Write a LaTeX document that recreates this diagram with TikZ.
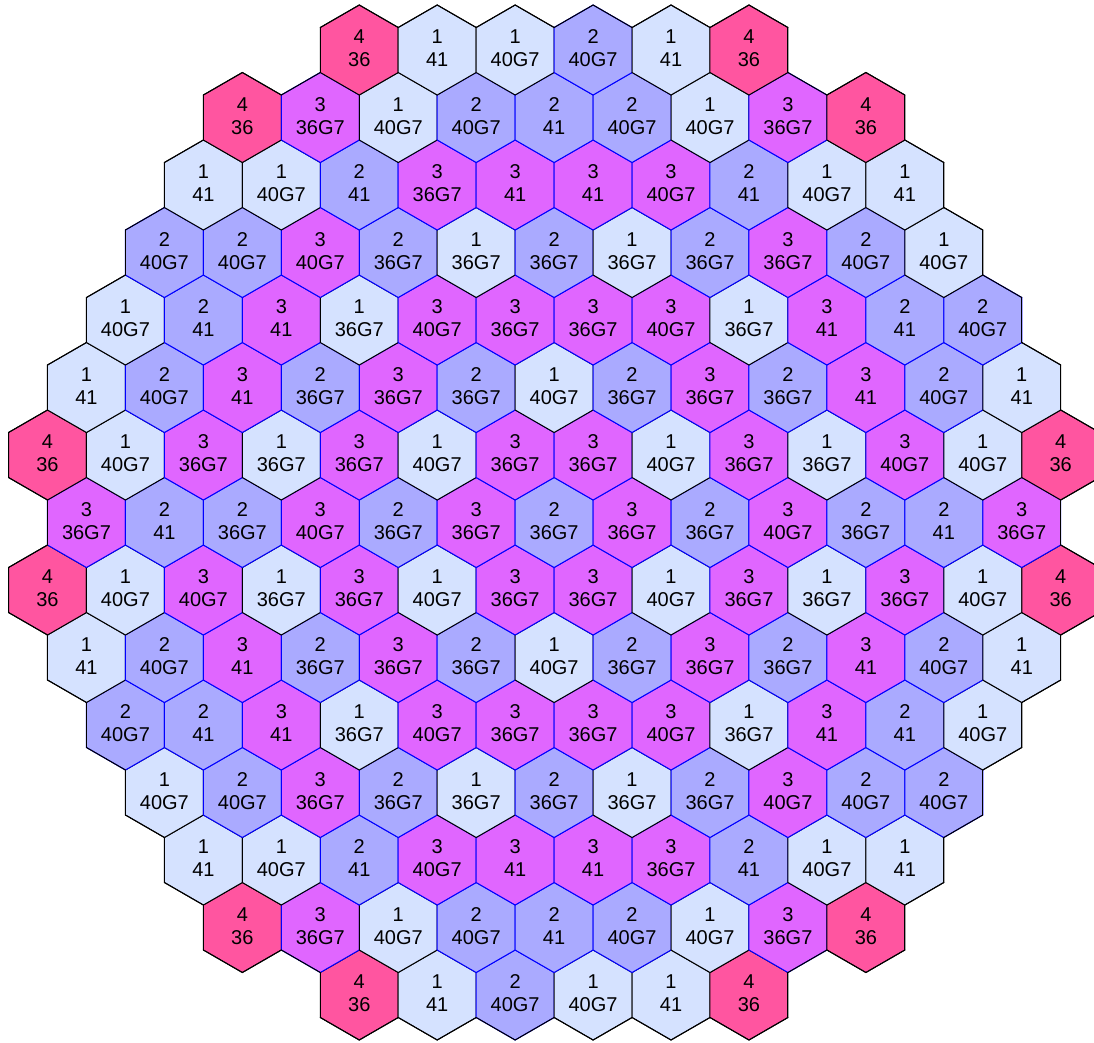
\documentclass[tikz,border=0pt]{standalone}
\usepackage{fontspec}
\setmainfont{Liberation Sans}
\definecolor{fillA}{RGB}{213,226,255}
\definecolor{fillB}{RGB}{170,170,255}
\definecolor{fillC}{RGB}{224,102,255}
\definecolor{fillD}{RGB}{255,85,160}
\colorlet{lineA}{black}
\colorlet{lineB}{blue}
\colorlet{lineC}{blue}
\colorlet{lineD}{black}
\def\stripbraces#1{#1}
\def\corerows{
 15/8/{D/4/36,A/1/41,B/2/40G7,A/1/40G7,A/1/41,D/4/36},
 14/5/{D/4/36,C/3/36G7,A/1/40G7,B/2/40G7,B/2/41,B/2/40G7,A/1/40G7,C/3/36G7,D/4/36},
 13/4/{A/1/41,A/1/40G7,B/2/41,C/3/40G7,C/3/41,C/3/41,C/3/36G7,B/2/41,A/1/40G7,A/1/41},
 12/3/{A/1/40G7,B/2/40G7,C/3/36G7,B/2/36G7,A/1/36G7,B/2/36G7,A/1/36G7,B/2/36G7,C/3/40G7,B/2/40G7,B/2/40G7},
 11/2/{B/2/40G7,B/2/41,C/3/41,A/1/36G7,C/3/40G7,C/3/36G7,C/3/36G7,C/3/40G7,A/1/36G7,C/3/41,B/2/41,A/1/40G7},
 10/1/{A/1/41,B/2/40G7,C/3/41,B/2/36G7,C/3/36G7,B/2/36G7,A/1/40G7,B/2/36G7,C/3/36G7,B/2/36G7,C/3/41,B/2/40G7,A/1/41},
 9/0/{D/4/36,A/1/40G7,C/3/40G7,A/1/36G7,C/3/36G7,A/1/40G7,C/3/36G7,C/3/36G7,A/1/40G7,C/3/36G7,A/1/36G7,C/3/36G7,A/1/40G7,D/4/36},
 8/1/{C/3/36G7,B/2/41,B/2/36G7,C/3/40G7,B/2/36G7,C/3/36G7,B/2/36G7,C/3/36G7,B/2/36G7,C/3/40G7,B/2/36G7,B/2/41,C/3/36G7},
 7/0/{D/4/36,A/1/40G7,C/3/36G7,A/1/36G7,C/3/36G7,A/1/40G7,C/3/36G7,C/3/36G7,A/1/40G7,C/3/36G7,A/1/36G7,C/3/40G7,A/1/40G7,D/4/36},
 6/1/{A/1/41,B/2/40G7,C/3/41,B/2/36G7,C/3/36G7,B/2/36G7,A/1/40G7,B/2/36G7,C/3/36G7,B/2/36G7,C/3/41,B/2/40G7,A/1/41},
 5/2/{A/1/40G7,B/2/41,C/3/41,A/1/36G7,C/3/40G7,C/3/36G7,C/3/36G7,C/3/40G7,A/1/36G7,C/3/41,B/2/41,B/2/40G7},
 4/3/{B/2/40G7,B/2/40G7,C/3/40G7,B/2/36G7,A/1/36G7,B/2/36G7,A/1/36G7,B/2/36G7,C/3/36G7,B/2/40G7,A/1/40G7},
 3/4/{A/1/41,A/1/40G7,B/2/41,C/3/36G7,C/3/41,C/3/41,C/3/40G7,B/2/41,A/1/40G7,A/1/41},
 2/5/{D/4/36,C/3/36G7,A/1/40G7,B/2/40G7,B/2/41,B/2/40G7,A/1/40G7,C/3/36G7,D/4/36},
 1/8/{D/4/36,A/1/41,A/1/40G7,B/2/40G7,A/1/41,D/4/36}}
\begin{document}
\begin{tikzpicture}[x=1pt,y=-1pt,
  hexlabel/.style={font=\fontsize{20}{23}\selectfont, align=center, inner sep=0pt, text=black},
  hexcell/.style={line width=1pt, line join=miter},
  rimedge/.style={draw=black, line width=1pt, line cap=round}]
\useasboundingbox (0,0) rectangle (1094,1043);
\clip (0,0) rectangle (1094,1043);
% assemblies, drawn from the bottom row upwards, left to right
\foreach \rw/\js/\cells in \corerows {
  \edef\celllist{\expandafter\stripbraces\cells}
  \foreach \ty/\nm/\lb [count=\k from 0] in \celllist {
    \pgfmathsetmacro\cx{47.5+38.97*(\js+2*\k)}
    \pgfmathsetmacro\cy{50+67.5*(\rw-1)}
    \filldraw[hexcell, fill=fill\ty, draw=line\ty] (\cx,\cy) +(90:45) -- +(150:45) -- +(210:45) -- +(270:45) -- +(330:45) -- +(30:45) -- cycle;
    \node[hexlabel] (h\rw-\k) at (\cx,\cy-1.5) {\nm\\\lb};
  }
}
% black outer rim of the core
\foreach \rw/\js/\cells in \corerows {
  \edef\celllist{\expandafter\stripbraces\cells}
  \pgfmathtruncatemacro\sC{{99,8,5,4,3,2,1,0,1,0,1,2,3,4,5,8,99}[\rw]}
  \pgfmathtruncatemacro\sU{{99,8,5,4,3,2,1,0,1,0,1,2,3,4,5,8,99}[\rw-1]}
  \pgfmathtruncatemacro\sD{{99,8,5,4,3,2,1,0,1,0,1,2,3,4,5,8,99}[\rw+1]}
  \foreach \ty/\nm/\lb [count=\k from 0] in \celllist {
    \pgfmathtruncatemacro\jj{\js+2*\k}
    \pgfmathsetmacro\cx{47.5+38.97*\jj}
    \pgfmathsetmacro\cy{50+67.5*(\rw-1)}
    \pgfmathtruncatemacro\hasR{(\jj+2<=26-\sC)?1:0}
    \pgfmathtruncatemacro\hasL{(\jj-2>=\sC)?1:0}
    \pgfmathtruncatemacro\hasUR{(\jj+1<=26-\sU)&&(\jj+1>=\sU)?1:0}
    \pgfmathtruncatemacro\hasUL{(\jj-1<=26-\sU)&&(\jj-1>=\sU)?1:0}
    \pgfmathtruncatemacro\hasDR{(\jj+1<=26-\sD)&&(\jj+1>=\sD)?1:0}
    \pgfmathtruncatemacro\hasDL{(\jj-1<=26-\sD)&&(\jj-1>=\sD)?1:0}
    \ifnum\hasR=0 \draw[rimedge] (\cx,\cy) +(330:45) -- +(30:45); \fi
    \ifnum\hasDR=0 \draw[rimedge] (\cx,\cy) +(30:45) -- +(90:45); \fi
    \ifnum\hasDL=0 \draw[rimedge] (\cx,\cy) +(90:45) -- +(150:45); \fi
    \ifnum\hasL=0 \draw[rimedge] (\cx,\cy) +(150:45) -- +(210:45); \fi
    \ifnum\hasUL=0 \draw[rimedge] (\cx,\cy) +(210:45) -- +(270:45); \fi
    \ifnum\hasUR=0 \draw[rimedge] (\cx,\cy) +(270:45) -- +(330:45); \fi
  }
}
\end{tikzpicture}
\end{document}
